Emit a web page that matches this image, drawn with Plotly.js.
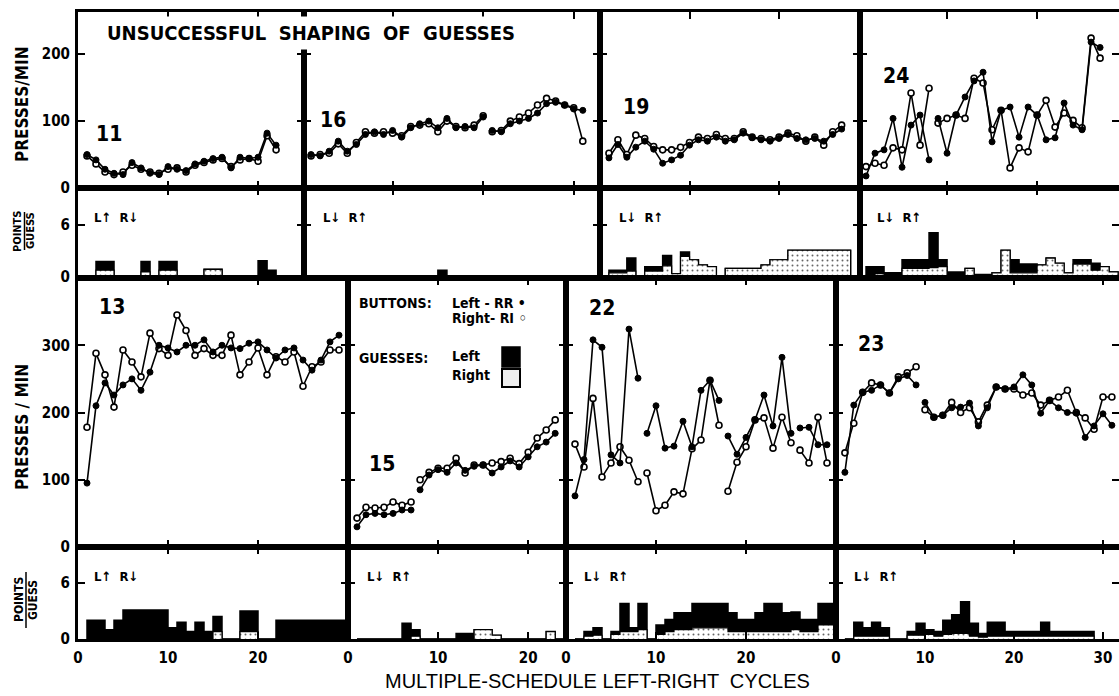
<!DOCTYPE html>
<html><head><meta charset="utf-8">
<script src="https://cdn.plot.ly/plotly-3.0.1.min.js"></script>
<style>html,body{margin:0;padding:0;background:#fff;} #chart{width:1119px;height:696px;}</style>
</head><body><div id="chart"></div>
<script>
// ---------------- DATA ----------------
// Presses per minute per cycle (index 0 = cycle 1). L = left button (filled), R = right button (open).
const press11L = [50, 42, 28, 22, 20, 38, 30, 22, 20, 32, 28, 26, 36, 40, 44, 46, 30, 46, 44, 46, 82, 64];
const press11R = [48, 36, 24, 20, 24, 34, 28, 24, 22, 28, 30, 24, 34, 38, 42, 44, 32, 42, 44, 40, 78, 57];
const gaps11 = [];

const press16L = [50, 48, 55, 70, 55, 65, 80, 84, 80, 86, 76, 90, 96, 100, 90, 104, 90, 92, 90, 106, 86, 84, 96, 100, 104, 112, 126, 128, 124, 118, 116];
const press16R = [48, 50, 52, 66, 52, 68, 84, 82, 84, 82, 78, 92, 94, 96, 84, 100, 92, 90, 94, 108, 84, 86, 100, 106, 112, 124, 134, 130, 124, 120, 70];
const gaps16 = [20];

const press19L = [45, 65, 46, 61, 70, 58, 37, 42, 49, 64, 72, 70, 76, 70, 72, 82, 75, 72, 70, 74, 80, 74, 72, 74, 70, 80, 88];
const press19R = [52, 72, 50, 79, 74, 62, 57, 57, 61, 68, 76, 74, 80, 74, 74, 84, 76, 74, 72, 76, 82, 78, 70, 76, 64, 84, 94];
const gaps19 = [];

const press24L = [18, 52, 57, 104, 31, 94, 109, 42, 104, 52, 109, 136, 160, 173, 69, 116, 121, 76, 121, 109, 72, 75, 127, 94, 87, 218, 210];
const press24R = [32, 37, 34, 60, 57, 142, 64, 149, 97, 104, 109, 104, 164, 157, 87, 116, 30, 60, 54, 109, 131, 91, 112, 101, 90, 224, 194];
const gaps24 = [8];

const press13L = [95, 210, 244, 226, 241, 250, 233, 260, 300, 296, 290, 300, 300, 308, 290, 300, 296, 295, 303, 305, 293, 281, 293, 296, 278, 263, 278, 305, 315];
const press13R = [178, 288, 256, 208, 293, 275, 253, 318, 295, 285, 345, 322, 285, 295, 285, 285, 315, 256, 275, 296, 256, 283, 275, 290, 239, 268, 275, 293, 293];
const gaps13 = [];

const press15L = [30, 48, 50, 48, 50, 55, 55, 85, 107, 115, 111, 125, 114, 120, 122, 110, 119, 128, 119, 134, 149, 156, 169];
const press15R = [43, 59, 58, 59, 67, 62, 67, 100, 111, 117, 117, 132, 110, 122, 122, 125, 127, 132, 124, 141, 162, 174, 189];
const gaps15 = [7];

const press22L = [76, 130, 308, 297, 137, 125, 324, 251, 169, 210, 147, 150, 187, 149, 233, 248, 218, 165, 138, 163, 189, 226, 180, 282, 169, 177, 178, 152, 152];
const press22R = [153, 119, 221, 104, 125, 149, 129, 97, 110, 54, 62, 82, 79, 146, 159, 248, 181, 83, 126, 149, 189, 192, 147, 193, 155, 144, 125, 193, 125];
const gaps22 = [8, 17, 25];

const press23L = [111, 211, 230, 233, 241, 229, 250, 255, 241, 215, 193, 196, 207, 208, 214, 180, 207, 238, 235, 238, 256, 241, 199, 218, 207, 200, 199, 163, 180, 198, 181];
const press23R = [140, 184, 230, 244, 241, 229, 253, 259, 268, 204, 193, 196, 215, 200, 207, 186, 211, 238, 235, 235, 226, 229, 211, 218, 223, 233, 200, 192, 175, 223, 223];
const gaps23 = [9];

// Points per guess per cycle: guessL = left guesses (black), guessR = right guesses (stippled)
const guessL11 = [0, 1.0, 1.0, 0, 0, 0, 1.2, 0, 1.0, 1.0, 0, 0, 0, 0, 0, 0, 0, 0, 0, 1.9, 0.8, 0];
const guessR11 = [0, 0.8, 0.8, 0, 0, 0, 0.6, 0, 0.8, 0.8, 0, 0, 0, 0.9, 0.9, 0, 0, 0, 0, 0, 0, 0];

const guessL16 = [0, 0, 0, 0, 0, 0, 0, 0, 0, 0, 0, 0, 0, 0, 0.8, 0, 0, 0, 0, 0, 0, 0, 0, 0, 0, 0, 0, 0, 0, 0, 0];
const guessR16 = [0, 0, 0, 0, 0, 0, 0, 0, 0, 0, 0, 0, 0, 0, 0, 0, 0, 0, 0, 0, 0, 0, 0, 0, 0, 0, 0, 0, 0, 0, 0];

const guessL19 = [0.3, 0.3, 1.5, 0, 0.5, 0.5, 1.2, 0, 0.5, 0, 0, 0, 0, 0, 0, 0, 0, 0, 0, 0, 0, 0, 0, 0, 0, 0, 0];
const guessR19 = [0.5, 0.5, 0.7, 0, 0.7, 0.7, 1.3, 0.4, 2.4, 2.0, 1.4, 1.2, 0, 1.0, 1.0, 1.0, 1.0, 1.4, 2.0, 2.0, 3.1, 3.1, 3.1, 3.1, 3.1, 3.1, 3.1];

const guessL24 = [1.0, 0.8, 0.5, 0.5, 1.0, 1.0, 1.0, 4.0, 0.8, 0.3, 0.3, 0, 0, 0, 0, 0, 1.5, 1.0, 1.0, 0, 0, 0, 0, 0.5, 0.5, 0.8, 0, 0];
const guessR24 = [0.2, 0.4, 0, 0, 1.0, 1.0, 1.0, 1.1, 1.2, 0.3, 0.3, 1.0, 0.3, 0.3, 0.5, 3.1, 0.5, 0.5, 0.5, 1.4, 2.2, 1.6, 0.5, 1.5, 1.5, 0.8, 1.2, 0.6];

const guessL13 = [2.0, 2.0, 1.0, 2.0, 3.1, 3.1, 3.1, 3.1, 3.1, 1.2, 1.8, 0.8, 1.8, 0.8, 1.6, 0, 0, 2.2, 2.2, 0, 0, 2.0, 2.0, 2.0, 2.0, 2.0, 2.0, 2.0, 2.0];
const guessR13 = [0, 0, 0, 0, 0, 0, 0, 0, 0, 0, 0, 0, 0, 0, 0.8, 0, 0, 0.8, 0.8, 0, 0, 0, 0, 0, 0, 0, 0, 0, 0];

const guessL15 = [0, 0, 0, 0, 0, 1.7, 0.7, 0, 0, 0, 0, 0.6, 0.6, 0, 0, 0, 0, 0, 0, 0, 0, 0, 0];
const guessR15 = [0, 0, 0, 0, 0, 0, 0.3, 0, 0, 0, 0, 0, 0, 1.0, 1.0, 0.4, 0, 0, 0, 0, 0, 0.8, 0];

const guessL22 = [0, 0.5, 0.8, 0, 0.3, 3.0, 0.4, 2.8, 0, 1.0, 1.3, 1.8, 1.8, 2.6, 2.6, 2.6, 2.6, 2.0, 1.3, 1.3, 2.0, 3.0, 3.0, 2.0, 1.9, 1.3, 1.3, 2.3, 2.3];
const guessR22 = [0, 0.3, 0.4, 0, 0.5, 0.8, 0.8, 1.0, 0, 0.5, 0.8, 1.0, 1.0, 1.2, 1.2, 1.2, 1.2, 0.8, 0.8, 0.8, 0.8, 0.8, 0.8, 0.8, 1.0, 0.8, 0.8, 1.5, 1.5];

const guessL23 = [0, 1.5, 0.9, 1.5, 0.9, 0, 0, 0.4, 1.3, 0.5, 0.5, 1.5, 2.0, 3.4, 1.4, 0.4, 1.5, 1.5, 0.5, 0.5, 0.5, 0.5, 1.5, 0.5, 0.5, 0.5, 0.5, 0.5];
const guessR23 = [0, 0.3, 0.3, 0.3, 0.3, 0, 0, 0.4, 0.4, 0.5, 0.3, 0.5, 0.6, 0.6, 0.3, 0.2, 0.3, 0.3, 0.3, 0.3, 0.3, 0.3, 0.3, 0.3, 0.3, 0.3, 0.3, 0.3];

// Text
const subjects = ['11', '16', '19', '24', '13', '15', '22', '23'];
const arrowLabels = ['L↑  R↓', 'L↓  R↑', 'L↓  R↑', 'L↓  R↑', 'L↑  R↓', 'L↓  R↑', 'L↓  R↑', 'L↓  R↑'];
const topTicks = [0, 100, 200];
const bottomTicks = [0, 100, 200, 300];
const pointTicks = [0, 6];
const cycleTicksA = [0, 10, 20];
const cycleTicksB = [0, 10, 20, 30];

// ---------------- LAYOUT / DRAWING ----------------
const W = 1119, H = 696;
const FONT = "'DejaVu Sans Condensed', 'Liberation Sans', Arial, sans-serif";
const FONT2 = "'Liberation Sans', Arial, sans-serif";

const panelData = [
  {L: press11L, R: press11R, gaps: gaps11, gL: guessL11, gR: guessR11},
  {L: press16L, R: press16R, gaps: gaps16, gL: guessL16, gR: guessR16},
  {L: press19L, R: press19R, gaps: gaps19, gL: guessL19, gR: guessR19},
  {L: press24L, R: press24R, gaps: gaps24, gL: guessL24, gR: guessR24},
  {L: press13L, R: press13R, gaps: gaps13, gL: guessL13, gR: guessR13},
  {L: press15L, R: press15R, gaps: gaps15, gL: guessL15, gR: guessR15},
  {L: press22L, R: press22R, gaps: gaps22, gL: guessL22, gR: guessR22},
  {L: press23L, R: press23R, gaps: gaps23, gL: guessL23, gR: guessR23}
];

// geometry (pixels) of every panel
const geom = [
  {row: 0, px: [78, 304],  xr: [0, 25.1],    lab: [109, 134], arr: [92, 218]},
  {row: 0, px: [304, 600], xr: [0.22, 32.9], lab: [333, 120], arr: [321, 218]},
  {row: 0, px: [600, 860], xr: [0, 29.05],   lab: [636, 107], arr: [617, 218]},
  {row: 0, px: [860, 1119], xr: [0.33, 29.1], lab: [896, 76], arr: [875, 218]},
  {row: 1, px: [78, 348],  xr: [0, 30],      lab: [112, 307], arr: [92, 576]},
  {row: 1, px: [348, 566], xr: [0, 24.2],    lab: [382, 464], arr: [365, 576]},
  {row: 1, px: [566, 836], xr: [0, 30],      lab: [602, 308], arr: [582, 576]},
  {row: 1, px: [836, 1119], xr: [0, 31.8],   lab: [871, 344], arr: [852, 576]}
];
const rows = [
  {press: [12, 188], pressRange: [0, 263], pts: [188, 278], ptsRange: [-0.1, 10.27], pTicks: topTicks},
  {press: [278, 547], pressRange: [0, 400], pts: [547, 639], ptsRange: [0, 9.86], pTicks: bottomTicks}
];

function sfx(i) { return i === 1 ? '' : String(i); }
function yDom(py) { return [1 - py[1] / H, 1 - py[0] / H]; }

function lineXY(vals, gaps) {
  const x = [], y = [];
  vals.forEach((v, i) => {
    const c = i + 1;
    x.push(c); y.push(v);
    if (gaps.includes(c)) { x.push(c + 0.5); y.push(null); }
  });
  return {x, y};
}
function stepXY(vals) {
  const x = [1], y = [0];
  vals.forEach((v, i) => { x.push(i + 1); y.push(v); });
  x.push(vals.length + 1); y.push(vals[vals.length - 1]);
  x.push(vals.length + 1); y.push(0);
  return {x, y};
}

const traces = [];
const layout = {
  width: W, height: H, margin: {l: 0, r: 0, t: 0, b: 0},
  paper_bgcolor: '#fff', plot_bgcolor: 'rgba(0,0,0,0)',
  showlegend: false, annotations: [], shapes: []
};
const axBase = {
  showline: true, linecolor: '#000', linewidth: 3, showgrid: false, zeroline: false,
  ticks: 'inside', ticklen: 7, tickwidth: 2, tickcolor: '#000',
  tickfont: {family: FONT, size: 15, color: '#000', weight: 'bold'}, fixedrange: true
};

panelData.forEach((p, k) => {
  const g = geom[k], r = rows[g.row];
  const a = 2 * k + 1, b = 2 * k + 2;
  const xd = [g.px[0] / W, g.px[1] / W];
  const first = (k === 0 || k === 4);
  const cyc = (k === 7) ? cycleTicksB : cycleTicksA;

  // presses axes
  layout['xaxis' + sfx(a)] = Object.assign({}, axBase, {
    domain: xd, range: g.xr, anchor: 'y' + sfx(a), mirror: 'ticks',
    tickvals: [10, 20, 30], showticklabels: false
  });
  layout['yaxis' + sfx(a)] = Object.assign({}, axBase, {
    domain: yDom(r.press), range: r.pressRange, anchor: 'x' + sfx(a), mirror: 'ticks',
    tickvals: r.pTicks, showticklabels: first, ticklabelstandoff: 2
  });
  // points axes
  const xb = Object.assign({}, axBase, {
    domain: xd, range: g.xr, anchor: 'y' + sfx(b)
  });
  if (g.row === 0) {
    Object.assign(xb, {side: 'top', mirror: true, tickvals: [10, 20, 30], showticklabels: false});
  } else {
    Object.assign(xb, {mirror: 'ticks', tickvals: cyc, showticklabels: true, ticklabelstandoff: 3});
  }
  layout['xaxis' + sfx(b)] = xb;
  layout['yaxis' + sfx(b)] = Object.assign({}, axBase, {
    domain: yDom(r.pts), range: r.ptsRange, anchor: 'x' + sfx(b), mirror: 'ticks',
    tickvals: pointTicks, showticklabels: first, ticklabelstandoff: 2
  });

  // guesses: total (black) then right part (stippled) on top
  const total = p.gL.map((v, i) => v + p.gR[i]);
  const st = stepXY(total), sr = stepXY(p.gR);
  traces.push({x: st.x, y: st.y, xaxis: 'x' + sfx(b), yaxis: 'y' + sfx(b), type: 'scatter', mode: 'lines',
    line: {shape: 'hv', color: '#000', width: 1.5}, fill: 'tozeroy', fillcolor: '#000', hoverinfo: 'skip'});
  traces.push({x: sr.x, y: sr.y, xaxis: 'x' + sfx(b), yaxis: 'y' + sfx(b), type: 'scatter', mode: 'lines',
    line: {shape: 'hv', color: '#000', width: 1.2}, fill: 'tozeroy', fillcolor: '#fff',
    fillpattern: {shape: '.', fgcolor: '#666', bgcolor: '#fff', size: 5, solidity: 0.12}, hoverinfo: 'skip'});

  // presses
  const lr = lineXY(p.R, p.gaps), ll = lineXY(p.L, p.gaps);
  traces.push({x: lr.x, y: lr.y, xaxis: 'x' + sfx(a), yaxis: 'y' + sfx(a), type: 'scatter', mode: 'lines+markers',
    line: {color: '#000', width: 1.6}, marker: {symbol: 'circle', size: 6, color: '#fff', line: {color: '#000', width: 1.6}},
    connectgaps: false, cliponaxis: false, hoverinfo: 'skip'});
  traces.push({x: ll.x, y: ll.y, xaxis: 'x' + sfx(a), yaxis: 'y' + sfx(a), type: 'scatter', mode: 'lines+markers',
    line: {color: '#000', width: 1.6}, marker: {symbol: 'circle', size: 6, color: '#000', line: {color: '#000', width: 1}},
    connectgaps: false, cliponaxis: false, hoverinfo: 'skip'});

  // subject number and arrow label
  layout.annotations.push({text: subjects[k], x: g.lab[0] / W, y: 1 - g.lab[1] / H, xref: 'paper', yref: 'paper',
    xanchor: 'center', yanchor: 'middle',
    showarrow: false, font: {family: FONT, size: 21, color: '#000', weight: 'bold'}});
  layout.annotations.push({text: arrowLabels[k], x: g.arr[0] / W, y: 1 - g.arr[1] / H, xref: 'paper', yref: 'paper',
    xanchor: 'left', yanchor: 'middle', showarrow: false, font: {family: FONT, size: 13, color: '#000', weight: 'bold'}});
});

function ann(text, px, py, opts) {
  layout.annotations.push(Object.assign({text: text, x: px / W, y: 1 - py / H, xref: 'paper', yref: 'paper',
    xanchor: 'center', yanchor: 'middle',
    showarrow: false, font: {family: FONT, size: 16, color: '#000', weight: 'bold'}}, opts || {}));
}
// title and axis titles
ann('UNSUCCESSFUL  SHAPING  OF  GUESSES', 311, 33, {bgcolor: '#fff', borderpad: 4,
  font: {family: FONT, size: 20, color: '#000', weight: 'bold'}});
ann('MULTIPLE-SCHEDULE LEFT-RIGHT  CYCLES', 597, 681, {font: {family: FONT2, size: 20, color: '#000'}});
ann('PRESSES/MIN', 22, 105, {textangle: -90, font: {family: FONT, size: 17, color: '#000', weight: 'bold'}});
ann('PRESSES / MIN', 22, 427, {textangle: -90, font: {family: FONT, size: 17, color: '#000', weight: 'bold'}});
ann('POINTS', 18, 231, {textangle: -90, font: {family: FONT, size: 11, color: '#000', weight: 'bold'}});
ann('GUESS', 31, 231, {textangle: -90, font: {family: FONT, size: 11, color: '#000', weight: 'bold'}});
ann('POINTS', 19, 600, {textangle: -90, font: {family: FONT, size: 12, color: '#000', weight: 'bold'}});
ann('GUESS', 33, 600, {textangle: -90, font: {family: FONT, size: 12, color: '#000', weight: 'bold'}});
layout.shapes.push({type: 'line', xref: 'paper', yref: 'paper', x0: 24.5 / W, x1: 24.5 / W, y0: 1 - 212 / H, y1: 1 - 250 / H, line: {color: '#000', width: 1.5}});
layout.shapes.push({type: 'line', xref: 'paper', yref: 'paper', x0: 26 / W, x1: 26 / W, y0: 1 - 572 / H, y1: 1 - 628 / H, line: {color: '#000', width: 1.5}});

// key
ann('BUTTONS:', 357, 303, {xanchor: 'left', font: {family: FONT, size: 14, color: '#000', weight: 'bold'}});
ann('Left - RR •', 450, 303, {xanchor: 'left', font: {family: FONT, size: 14, color: '#000', weight: 'bold'}});
ann('Right- RI ◦', 450, 318, {xanchor: 'left', font: {family: FONT, size: 14, color: '#000', weight: 'bold'}});
ann('GUESSES:', 357, 358, {xanchor: 'left', font: {family: FONT, size: 14, color: '#000', weight: 'bold'}});
ann('Left', 450, 356, {xanchor: 'left', font: {family: FONT, size: 14, color: '#000', weight: 'bold'}});
ann('Right', 450, 375, {xanchor: 'left', font: {family: FONT, size: 14, color: '#000', weight: 'bold'}});
layout.shapes.push({type: 'rect', xref: 'paper', yref: 'paper', x0: 502 / W, x1: 520 / W, y0: 1 - 367 / H, y1: 1 - 347 / H, fillcolor: '#000', line: {color: '#000', width: 1.5}});
layout.shapes.push({type: 'rect', xref: 'paper', yref: 'paper', x0: 502 / W, x1: 520 / W, y0: 1 - 387 / H, y1: 1 - 369 / H, fillcolor: '#eee', line: {color: '#000', width: 2}});

Plotly.newPlot('chart', traces, layout, {displayModeBar: false, staticPlot: true});
</script>
</body></html>
